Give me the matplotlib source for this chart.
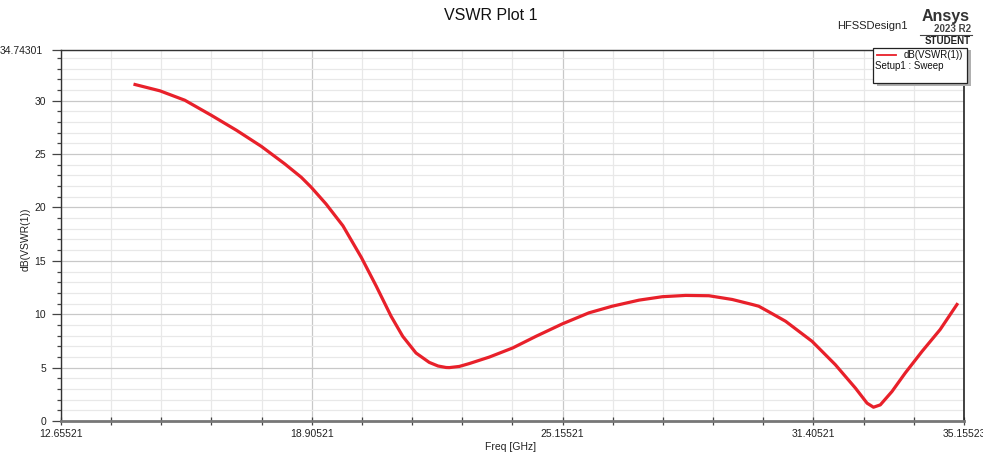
import matplotlib
matplotlib.use("Agg")
import matplotlib.pyplot as plt
import numpy as np
from matplotlib.ticker import FixedLocator, MultipleLocator
from matplotlib.patches import Rectangle

plt.rcParams['font.family'] = ['Liberation Sans', 'DejaVu Sans']

freq_ghz = [14.50, 15.12, 15.74, 16.40, 17.03, 17.65, 18.23, 18.64, 18.89, 19.26, 19.68,
            20.14, 20.51, 20.88, 21.17, 21.50, 21.83, 22.05, 22.25, 22.33, 22.58, 22.83, 23.33,
            23.91, 24.49, 25.15, 25.81, 26.39, 27.06, 27.64, 28.22, 28.80, 29.38, 29.88, 30.04,
            30.29, 30.71, 31.37, 31.95, 32.45, 32.74, 32.90, 33.07, 33.36, 33.69, 34.11, 34.56,
            34.98]
vswr_db = [31.51, 30.92, 30.04, 28.63, 27.22, 25.71, 24.08, 22.83, 21.89, 20.32, 18.28,
           15.31, 12.63, 9.81, 7.93, 6.37, 5.49, 5.15, 5.01, 5.00, 5.11, 5.38, 5.99,
           6.84, 7.93, 9.10, 10.13, 10.75, 11.32, 11.64, 11.76, 11.73, 11.38, 10.91, 10.75,
           10.23, 9.34, 7.46, 5.27, 3.08, 1.67, 1.29, 1.51, 2.76, 4.49, 6.52, 8.56,
           10.91]

x_ticks = [12.65521, 18.90521, 25.15521, 31.40521, 35.15523]
x_tick_labels = ["12.65521", "18.90521", "25.15521", "31.40521", "35.15523"]
y_ticks = [0, 5, 10, 15, 20, 25, 30, 34.74301]
y_tick_labels = ["0", "5", "10", "15", "20", "25", "30", ""]
y_top_label = "34.74301"

W, H = 983, 457
fig = plt.figure(figsize=(W/100, H/100), dpi=100)
L, R, T, B = 61, 964, 50, 421
ax = fig.add_axes([L/W, 1 - B/H, (R - L)/W, (B - T)/H])

ax.plot(freq_ghz, vswr_db, color='#e8202a', lw=2.3, solid_joinstyle='round', zorder=5)

ax.set_xlim(x_ticks[0], x_ticks[-1])
ax.set_ylim(0, y_ticks[-1])

ax.xaxis.set_major_locator(FixedLocator(x_ticks))
ax.set_xticklabels(x_tick_labels)
ax.xaxis.set_minor_locator(FixedLocator(list(np.arange(x_ticks[0], x_ticks[-1], 1.25))))
ax.yaxis.set_major_locator(FixedLocator(y_ticks))
ax.set_yticklabels(y_tick_labels)
ax.yaxis.set_minor_locator(MultipleLocator(1))

ax.grid(which='major', color='#c8c8c8', lw=0.9)
ax.grid(which='minor', color='#e8e8e8', lw=0.9)
ax.set_axisbelow(True)

ax.tick_params(axis='y', which='major', direction='out', length=6.5, width=0.9, color='#444444',
               labelsize=7.5, labelcolor='#222222', pad=4.3)
ax.tick_params(axis='y', which='minor', direction='out', length=3, width=0.9, color='#444444')
ax.tick_params(axis='x', which='both', direction='inout', length=5.5, width=0.9, color='#444444',
               labelsize=7.5, labelcolor='#222222', pad=3)

for s in ['left', 'top']:
    ax.spines[s].set_color('#333333')
    ax.spines[s].set_linewidth(1.0)
ax.spines['right'].set_color('#222222')
ax.spines['right'].set_linewidth(1.2)
ax.spines['bottom'].set_color('#777777')
ax.spines['bottom'].set_linewidth(2.0)

fig.text(43/W, 1 - 51/H, y_top_label, ha='right', va='center', fontsize=7.5, color='#222222')

ax.set_xlabel("Freq [GHz]", fontsize=7.5, color='#222222', va='center')
ax.xaxis.set_label_coords((511 - L)/(R - L), -(447 - B)/(B - T))
ax.set_ylabel("dB(VSWR(1))", fontsize=7.5, color='#222222', va='center')
ax.yaxis.set_label_coords(-(L - 26)/(R - L), (B - 239)/(B - T))

fig.text(491/W, 1 - 16/H, "VSWR Plot 1", ha='center', va='center', fontsize=11.5, color='#111111')
fig.text(872/W, 1 - 26/H, "HFSSDesign1", ha='center', va='center', fontsize=8, color='#222222')
fig.text(946/W, 1 - 16/H, "Ansys", ha='center', va='center', fontsize=11.5, fontweight='bold', color='#333333')
fig.text(971/W, 1 - 29/H, "2023 R2", ha='right', va='center', fontsize=7, fontweight='bold', color='#444444')
fig.add_artist(plt.Line2D([920/W, 972/W], [1 - 34.5/H, 1 - 34.5/H], color='#444444', lw=0.8))
fig.text(971/W, 1 - 41/H, "STUDENT", ha='right', va='center', fontsize=7, fontweight='bold', color='#222222')

# legend box with shadow
fig.add_artist(Rectangle((877/W, 1 - 86/H), 94/W, 36/H, transform=fig.transFigure,
                         facecolor='#b0b0b0', edgecolor='none', zorder=9))
fig.add_artist(Rectangle((873/W, 1 - 83/H), 94/W, 35/H, transform=fig.transFigure,
                         facecolor='white', edgecolor='#222222', lw=0.9, zorder=10))
fig.add_artist(plt.Line2D([877/W, 896/W], [1 - 55/H, 1 - 55/H], color='#e8202a', lw=1.3, zorder=11))
fig.text(963/W, 1 - 55/H, "dB(VSWR(1))", ha='right', va='center', fontsize=7, color='#111111', zorder=11)
fig.text(875/W, 1 - 66/H, "Setup1 : Sweep", ha='left', va='center', fontsize=7, color='#111111', zorder=11)

fig.savefig("out.png", dpi=100)
